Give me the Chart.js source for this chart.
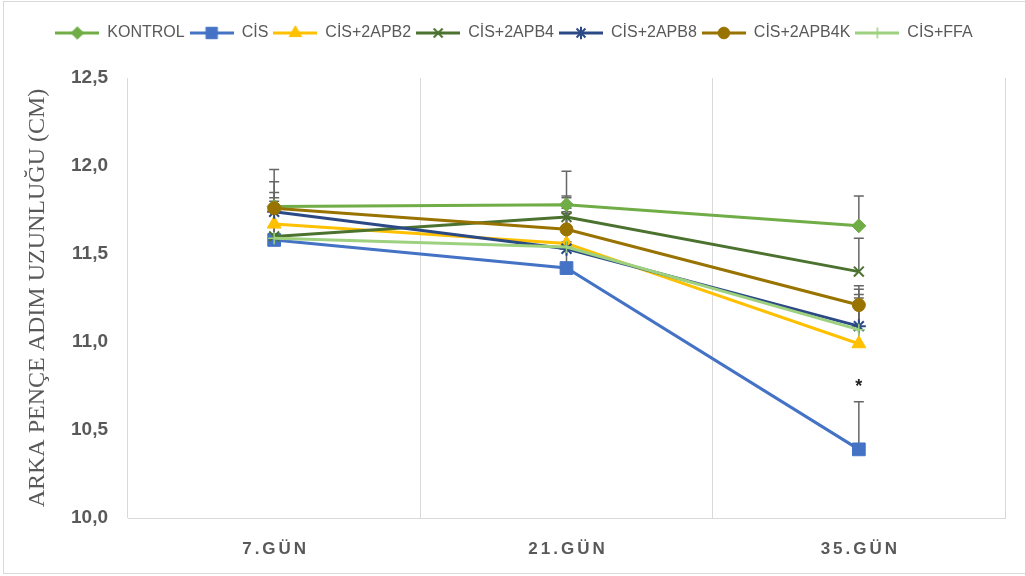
<!DOCTYPE html>
<html>
<head>
<meta charset="utf-8">
<script src="https://cdn.jsdelivr.net/npm/chart.js@4.4.1/dist/chart.umd.min.js"></script>
<style>
html, body { margin: 0; padding: 0; background: #fff; }
#wrap { position: relative; width: 1025px; height: 576px; overflow: hidden; }
#frame { position: absolute; left: 3px; top: 1px; width: 1040px; height: 573px; border: 1px solid #d9d9d9; box-sizing: border-box; pointer-events: none; }
</style>
</head>
<body>
<div id="wrap">
  <canvas id="chart" width="1025" height="576"></canvas>
  <div id="frame"></div>
</div>
<script>
// gün etiketleri
const days = ['7.GÜN', '21.GÜN', '35.GÜN'];
const seriesNames = ['KONTROL', 'CİS', 'CİS+2APB2', 'CİS+2APB4', 'CİS+2APB8', 'CİS+2APB4K', 'CİS+FFA'];

// ortalamalar (cm)
const kontrol = [11.77, 11.78, 11.66];
const cis     = [11.58, 11.42, 10.39];
const apb2    = [11.67, 11.56, 10.99];
const apb4    = [11.60, 11.71, 11.40];
const apb8    = [11.74, 11.53, 11.09];
const apb4k   = [11.76, 11.64, 11.21];
const ffa     = [11.59, 11.54, 11.07];

// hata çubukları (sadece yukarı)
const kontrolErr = [0.21, 0.19, 0.17];
const cisErr     = [0.18, 0.15, 0.27];
const apb2Err    = [0.15, 0.20, 0.26];
const apb4Err    = [0.20, 0.12, 0.19];
const apb8Err    = [0.11, 0.20, 0.21];
const apb4kErr   = [0.15, 0.18, 0.11];
const ffaErr     = [0.18, 0.20, 0.20];

// anlamlılık işareti (CİS)
const cisMark = ['', '', '*'];

const yTicks = [10.0, 10.5, 11.0, 11.5, 12.0, 12.5];

const seriesValues = [kontrol, cis, apb2, apb4, apb8, apb4k, ffa];
const seriesErrors = [kontrolErr, cisErr, apb2Err, apb4Err, apb8Err, apb4kErr, ffaErr];

const colors = ['#70AD47', '#4472C4', '#FFC000', '#4B722F', '#2B4A85', '#997300', '#9DD17F'];
const markers = [
    { style: 'rectRot',  r: 7,   bw: 1 },
    { style: 'rect',     r: 9,   bw: 1 },
    { style: 'triangle', r: 8,   bw: 1 },
    { style: 'crossRot', r: 7,   bw: 2 },
    { style: 'star',     r: 7,   bw: 2 },
    { style: 'circle',   r: 6.5, bw: 1 },
    { style: 'cross',    r: 6,   bw: 1.5 }
];

function makeIcon(color, m) {
    const c = document.createElement('canvas');
    c.width = 44; c.height = 20;
    const g = c.getContext('2d');
    g.strokeStyle = color;
    g.fillStyle = color;
    g.lineWidth = 3;
    g.beginPath(); g.moveTo(0, 10); g.lineTo(44, 10); g.stroke();
    g.lineWidth = m.bw;
    Chart.helpers.drawPoint(g, { pointStyle: m.style, radius: m.r * 0.9, borderWidth: m.bw, rotation: 0 }, 22, 10);
    return c;
}
const legendIcons = colors.map((c, i) => makeIcon(c, markers[i]));

const legendGap = {
    id: 'legendGap',
    beforeInit(chart) {
        const fit = chart.legend.fit;
        chart.legend.fit = function () {
            fit.bind(chart.legend)();
            this.height += 27;
        };
    }
};

const errorBars = {
    id: 'errorBars',
    beforeDatasetsDraw(chart) {
        const { ctx, scales: { x, y } } = chart;
        ctx.save();
        ctx.strokeStyle = '#666666';
        ctx.lineWidth = 1.5;
        seriesValues.forEach((vals, i) => {
            vals.forEach((v, j) => {
                const px = x.getPixelForValue(j);
                const y0 = y.getPixelForValue(v);
                const y1 = y.getPixelForValue(v + seriesErrors[i][j]);
                ctx.beginPath();
                ctx.moveTo(px, y0); ctx.lineTo(px, y1);
                ctx.moveTo(px - 5, y1); ctx.lineTo(px + 5, y1);
                ctx.stroke();
            });
        });
        // yıldız
        ctx.fillStyle = '#222';
        ctx.font = 'bold 18px "Liberation Sans"';
        ctx.textAlign = 'center';
        ctx.textBaseline = 'middle';
        cisMark.forEach((t, j) => {
            if (!t) return;
            const top = y.getPixelForValue(cis[j] + cisErr[j]);
            ctx.fillText(t, x.getPixelForValue(j), top - 15);
        });
        ctx.restore();
    }
};

const dayLabels = {
    id: 'dayLabels',
    afterDraw(chart) {
        const { ctx, scales: { x } } = chart;
        ctx.save();
        ctx.font = 'bold 17px "Liberation Sans"';
        ctx.letterSpacing = '3px';
        ctx.fillStyle = '#595959';
        ctx.textAlign = 'center';
        ctx.textBaseline = 'middle';
        days.forEach((d, j) => ctx.fillText(d, x.getPixelForValue(j) + 1.5, 549));
        ctx.restore();
    }
};

const ctx = document.getElementById('chart').getContext('2d');
new Chart(ctx, {
    type: 'line',
    data: {
        labels: days,
        datasets: seriesNames.map((name, i) => ({
            label: name,
            data: seriesValues[i],
            borderColor: colors[i],
            backgroundColor: colors[i],
            borderWidth: 3,
            pointStyle: markers[i].style,
            pointRadius: markers[i].r,
            pointHoverRadius: markers[i].r,
            pointBorderWidth: markers[i].bw,
            tension: 0,
            clip: false,
            order: seriesNames.length - 1 - i
        }))
    },
    options: {
        responsive: false,
        animation: false,
        layout: { padding: { top: 20, left: 23, right: 20, bottom: 0 } },
        plugins: {
            tooltip: { enabled: false },
            legend: {
                position: 'top',
                labels: {
                    usePointStyle: true,
                    pointStyleWidth: 44,
                    padding: 5,
                    color: '#595959',
                    font: { family: '"Liberation Sans"', size: 16 },
                    generateLabels(chart) {
                        return chart.data.datasets.map((ds, i) => ({
                            text: ds.label,
                            fillStyle: ds.borderColor,
                            strokeStyle: ds.borderColor,
                            lineWidth: 0,
                            pointStyle: legendIcons[i],
                            hidden: false,
                            datasetIndex: i,
                            fontColor: '#595959'
                        }));
                    }
                }
            }
        },
        scales: {
            x: {
                offset: true,
                grid: { offset: true, color: '#d9d9d9', lineWidth: 1, drawTicks: false },
                border: { color: '#d9d9d9' },
                ticks: { display: false },
                afterFit(scale) { scale.height = 58; }
            },
            y: {
                min: 10,
                max: 12.5,
                afterBuildTicks(scale) { scale.ticks = yTicks.map(v => ({ value: v })); },
                grid: { display: false, drawTicks: false },
                border: { display: false },
                ticks: {
                    padding: 20,
                    color: '#595959',
                    font: { family: '"Liberation Sans"', size: 19, weight: 'bold' },
                    callback: v => v.toFixed(1).replace('.', ',')
                },
                title: {
                    display: true,
                    text: 'ARKA PENÇE ADIM UZUNLUĞU (CM)',
                    color: '#595959',
                    font: { family: '"Liberation Serif"', size: 24 },
                    padding: 0
                },
                afterFit(scale) { scale.width = 105; }
            }
        }
    },
    plugins: [legendGap, errorBars, dayLabels]
});
</script>
</body>
</html>
